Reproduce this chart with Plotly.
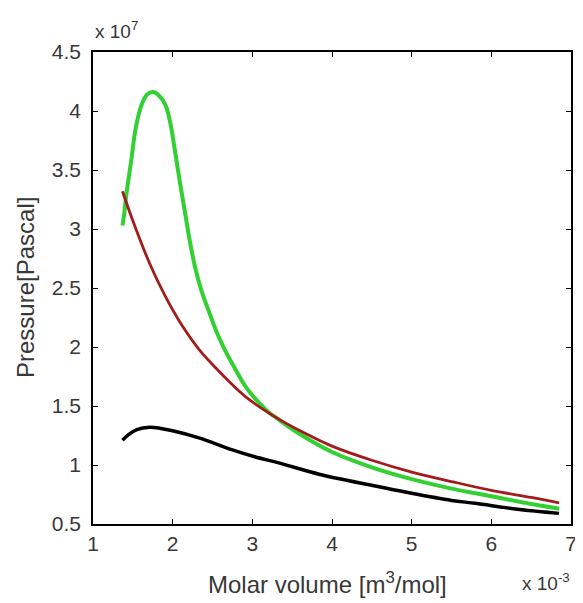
import plotly.graph_objects as go

# Values in displayed units: x in 1e-3 m^3/mol, y in 1e7 Pa
green_x = [1.37, 1.39, 1.42, 1.48, 1.54, 1.62, 1.68, 1.75, 1.83, 1.91, 1.97, 2.02, 2.09, 2.16,
           2.22, 2.28, 2.36, 2.45, 2.55, 2.66, 2.78, 2.90, 3.00, 3.11, 3.20, 3.32, 3.60, 4.00,
           4.50, 5.00, 5.50, 5.80, 6.00, 6.50, 6.85]
green_y = [3.03, 3.12, 3.30, 3.58, 3.87, 4.07, 4.14, 4.16, 4.13, 4.05, 3.90, 3.70, 3.40, 3.12,
           2.88, 2.68, 2.48, 2.31, 2.13, 1.97, 1.82, 1.68, 1.59, 1.51, 1.45, 1.39, 1.26, 1.11,
           0.98, 0.88, 0.80, 0.76, 0.735, 0.67, 0.63]

red_x = [1.37, 1.50, 1.71, 1.90, 2.12, 2.33, 2.53, 2.75, 2.95, 3.28, 3.60, 4.00, 4.50, 5.00,
         5.50, 6.00, 6.50, 6.85]
red_y = [3.32, 3.07, 2.71, 2.44, 2.18, 1.98, 1.83, 1.68, 1.56, 1.41, 1.29, 1.16, 1.04, 0.94,
         0.86, 0.785, 0.725, 0.68]

black_x = [1.37, 1.45, 1.55, 1.71, 1.85, 2.00, 2.33, 2.74, 3.03, 3.32, 3.85, 4.56, 5.00, 5.50,
           5.80, 6.33, 6.85]
black_y = [1.21, 1.26, 1.30, 1.32, 1.31, 1.29, 1.23, 1.13, 1.07, 1.02, 0.92, 0.82, 0.76, 0.70,
           0.675, 0.625, 0.59]

x_ticks = [1, 2, 3, 4, 5, 6, 7]
y_ticks = [0.5, 1, 1.5, 2, 2.5, 3, 3.5, 4, 4.5]
y_tick_text = ["0.5", "1", "1.5", "2", "2.5", "3", "3.5", "4", "4.5"]

FONT = "Liberation Sans, Arial, sans-serif"
TXT = "#383838"

fig = go.Figure()
fig.add_trace(go.Scatter(x=black_x, y=black_y, mode="lines",
                         line=dict(color="#000000", width=3.5, shape="spline")))
fig.add_trace(go.Scatter(x=green_x, y=green_y, mode="lines",
                         line=dict(color="#33d033", width=4, shape="spline")))
fig.add_trace(go.Scatter(x=red_x, y=red_y, mode="lines",
                         line=dict(color="#a31c1c", width=2.8, shape="spline")))

axis_common = dict(showline=True, linecolor="#000000", linewidth=1.5, mirror="ticks",
                   ticks="inside", ticklen=5, tickcolor="#000000", showgrid=False,
                   zeroline=False, tickfont=dict(family=FONT, size=21, color=TXT),
                   ticklabeloverflow="allow")

fig.update_xaxes(range=[1, 7], tickvals=x_ticks, ticktext=[str(t) for t in x_ticks],
                 **axis_common)
fig.update_yaxes(range=[0.5, 4.5], tickvals=y_ticks, ticktext=y_tick_text,
                 ticklabelstandoff=6, **axis_common)

# page body adds ~8px offset; size the figure so it fits the 583x603 window
fig.update_layout(
    width=575, height=595,
    margin=dict(l=85, r=6, t=44, b=79),
    paper_bgcolor="white", plot_bgcolor="white",
    showlegend=False,
    font=dict(family=FONT, color=TXT),
    annotations=[
        dict(text="x 10<sup>7</sup>", xref="paper", yref="paper", x=0.0, y=1.0,
             xanchor="left", yanchor="bottom", yshift=8, showarrow=False,
             font=dict(family=FONT, size=19, color=TXT)),
        dict(text="x 10<sup>-3</sup>", xref="paper", yref="paper", x=0.893, y=0.0,
             xanchor="left", yanchor="top", yshift=-44, showarrow=False,
             font=dict(family=FONT, size=19, color=TXT)),
        dict(text="Molar volume [m<sup>3</sup>/mol]", xref="paper", yref="paper", x=0.49, y=0.0,
             xanchor="center", yanchor="top", yshift=-42, showarrow=False,
             font=dict(family=FONT, size=24, color=TXT)),
        dict(text="Pressure[Pascal]", xref="paper", yref="paper", x=0.0, y=0.5,
             xanchor="center", yanchor="middle", xshift=-68, textangle=-90, showarrow=False,
             font=dict(family=FONT, size=24, color=TXT)),
    ],
)

fig.write_html("out.html")
